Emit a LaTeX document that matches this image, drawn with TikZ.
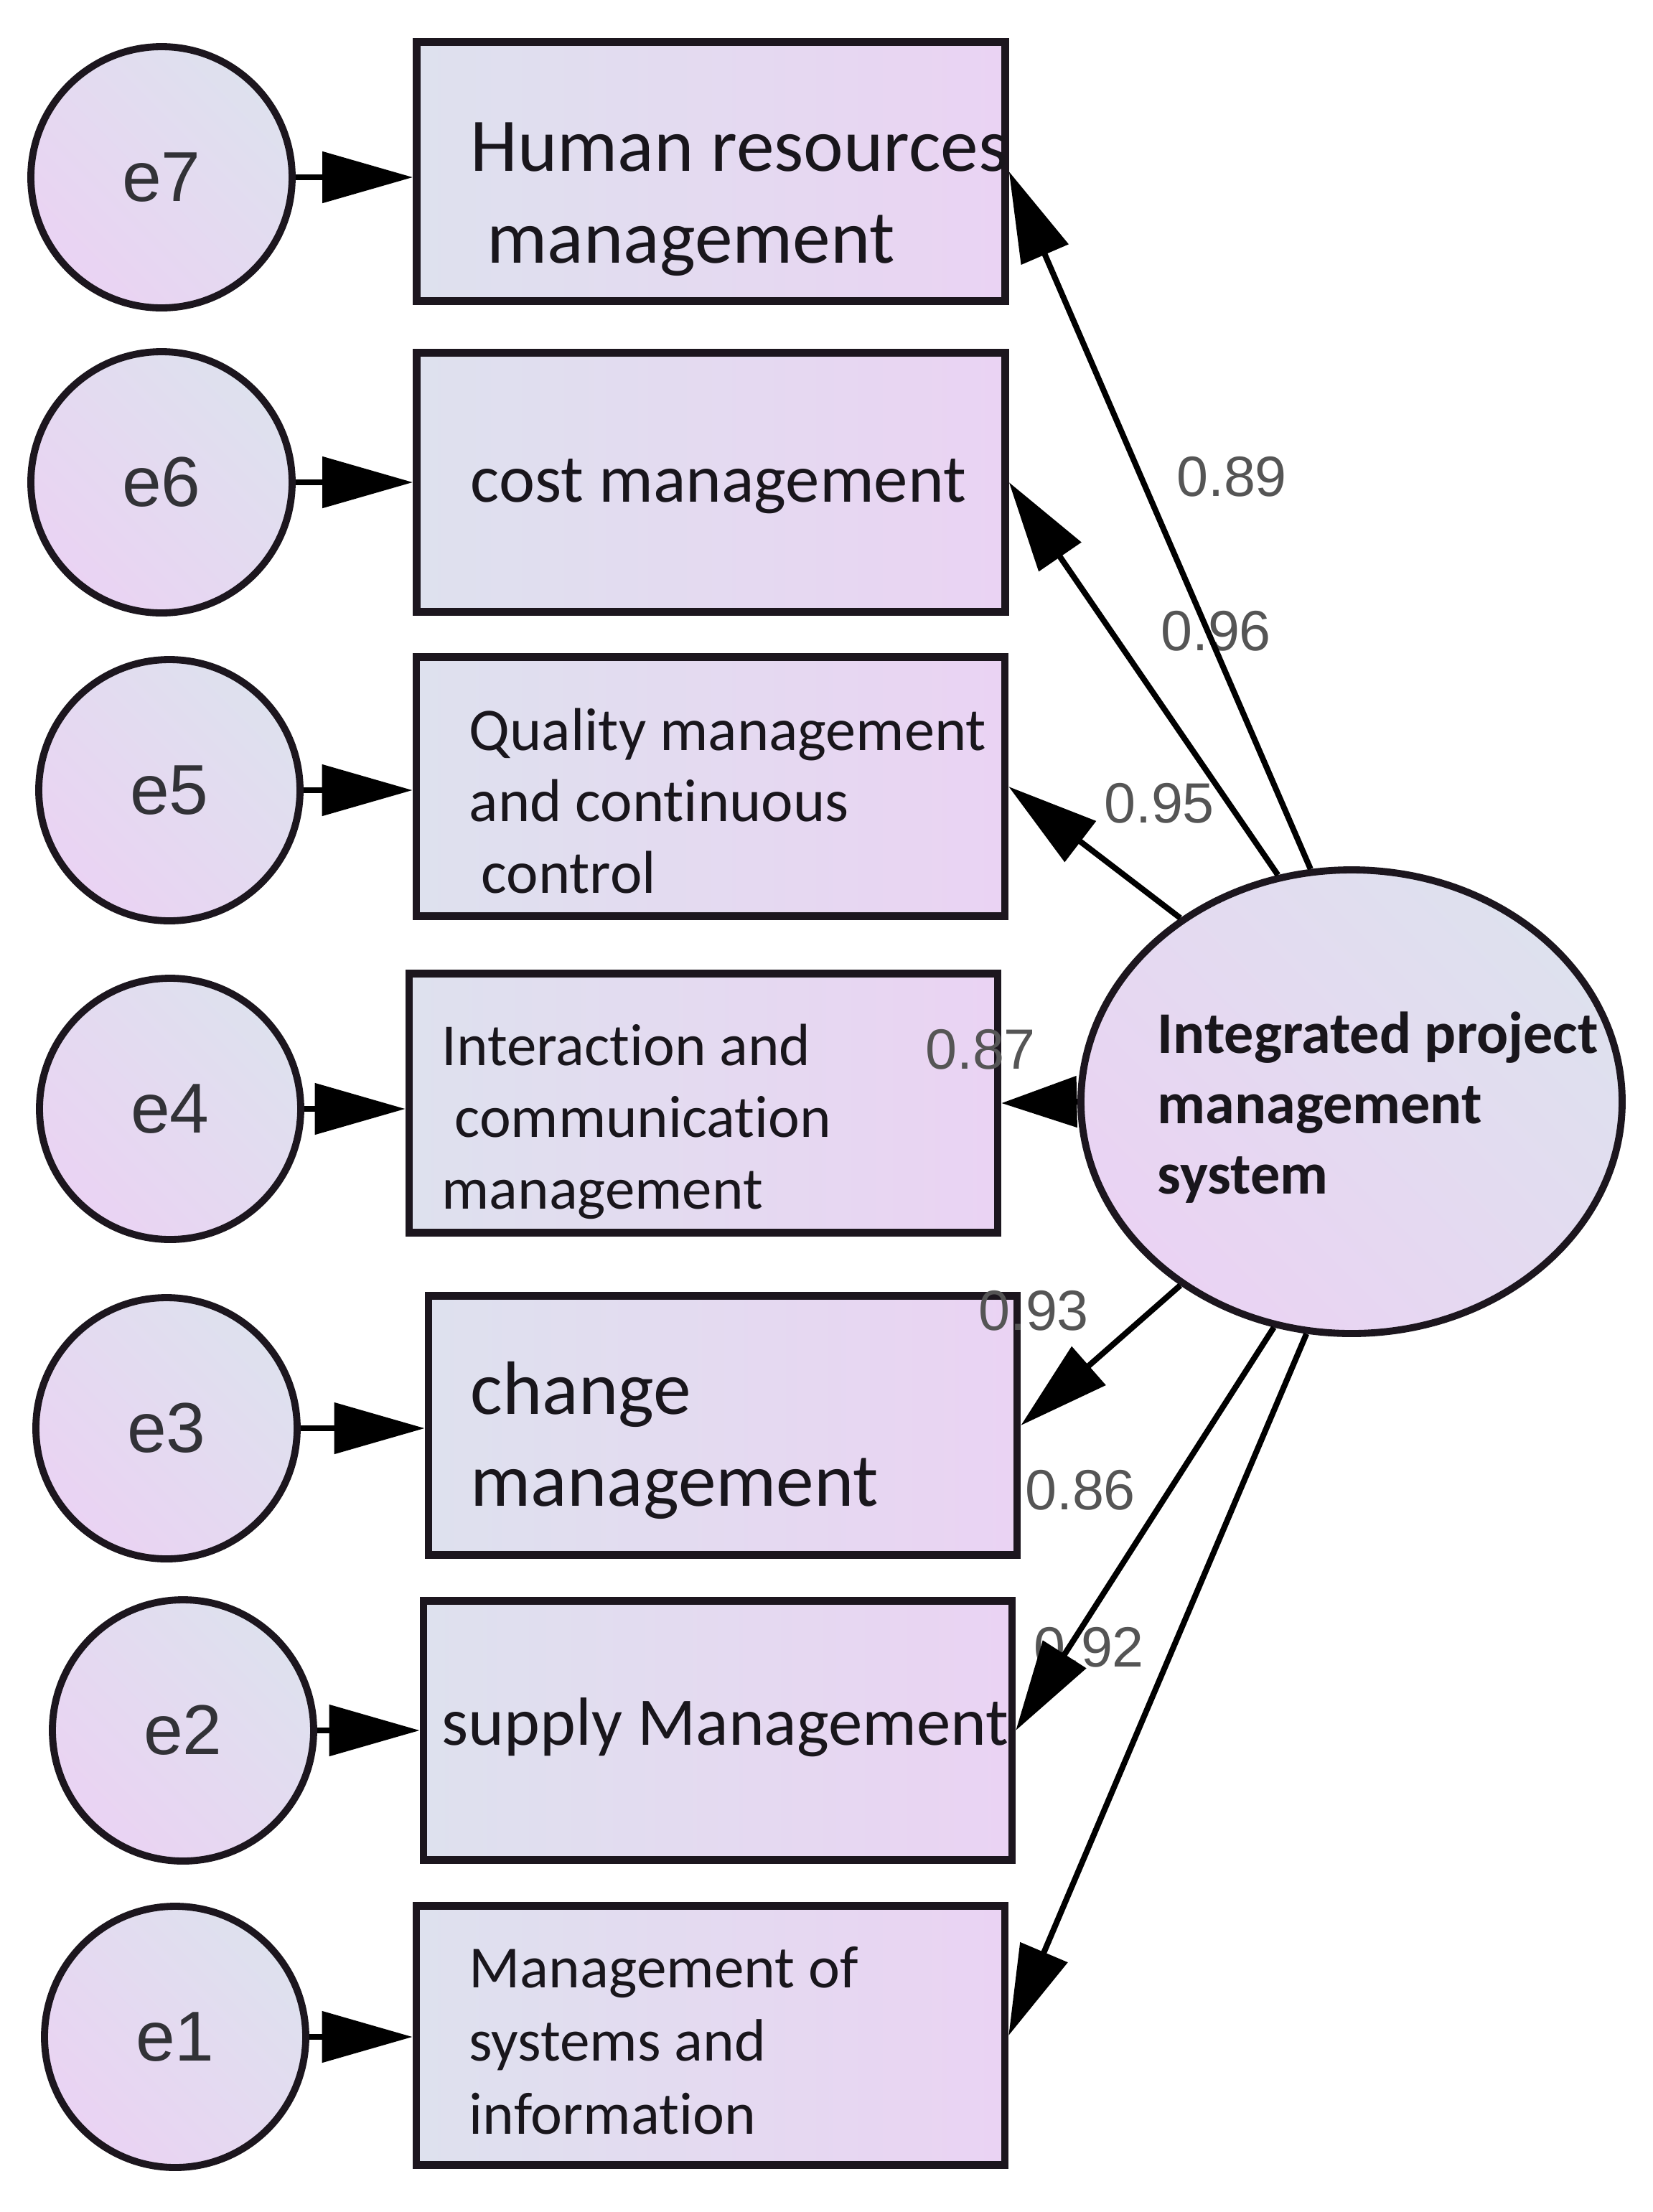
\documentclass[tikz,border=0pt]{standalone}
\usepackage{fontspec}
\setmainfont{Carlito}[Ligatures={NoCommon,NoContextual}]
\newfontfamily\arialfont{Liberation Sans}
\usetikzlibrary{arrows.meta,shapes.geometric}
\definecolor{fillA}{RGB}{222,225,238}
\definecolor{fillB}{RGB}{234,211,243}
\definecolor{edgecol}{RGB}{28,22,30}
\definecolor{numgray}{RGB}{85,85,85}
\definecolor{egray}{RGB}{50,50,55}
\definecolor{txtcol}{RGB}{25,22,28}
\begin{document}
\begin{tikzpicture}[
  obsbox/.style={draw=edgecol, line width=3pt, left color=fillA, right color=fillB,
    minimum width=8.2cm, minimum height=3.61cm, inner sep=0pt},
  errc/.style={circle, draw=edgecol, line width=2.8pt, left color=fillA, right color=fillB,
    shading angle=-45, minimum size=3.64cm, inner sep=0pt,
    font=\arialfont\fontsize{28}{30}\selectfont, text=egray},
  latent/.style={ellipse, draw=edgecol, line width=2.8pt, left color=fillA, right color=fillB,
    shading angle=-45, minimum width=7.54cm, minimum height=6.46cm, inner sep=0pt},
  conn/.style={draw=black, line width=2.3pt, -{Triangle[length=1.26cm,width=0.7cm]}},
  coef/.style={font=\arialfont\fontsize{22.5}{24}\selectfont, text=numgray, inner sep=0pt},
  btext/.style={anchor=west, align=left, inner sep=0pt, text=txtcol}
]
\fill[white] (0,0) rectangle (23.02,-30.82);
\useasboundingbox (0,0) rectangle (23.02,-30.82);

% observed boxes
\node[obsbox] (b1) at (9.905,-2.39) {};
\node[obsbox] (b2) at (9.905,-6.72) {};
\node[obsbox] (b3) at (9.90,-10.96) {};
\node[obsbox] (b4) at (9.80,-15.37) {};
\node[obsbox] (b5) at (10.07,-19.86) {};
\node[obsbox] (b6) at (10.00,-24.11) {};
\node[obsbox] (b7) at (9.90,-28.36) {};

% box texts
\node[btext, font=\fontsize{30}{36.4}\selectfont] (t1) at (6.55,-2.78)
  {Human resources\\\hspace*{0.23cm}management};
\node[btext, font=\fontsize{27}{32}\selectfont] (t2) at (6.55,-6.78) {cost management};
\node[btext, font=\fontsize{24}{28.2}\selectfont] (t3) at (6.53,-11.16)
  {Quality management\\and continuous\\\hspace*{0.17cm}control};
\node[btext, font=\fontsize{23.6}{28.5}\selectfont] (t4) at (6.15,-15.63)
  {Interaction and\\\hspace*{0.18cm}communication\\management};
\node[btext, font=\fontsize{30}{36.4}\selectfont] (t5) at (6.55,-20.07)
  {change\\management};
\node[btext, font=\fontsize{27}{32}\selectfont] (t6) at (6.15,-24.07) {supply Management};
\node[btext, font=\fontsize{23.7}{29}\selectfont] (t7) at (6.53,-28.43)
  {Management of\\systems and\\information};

% error circles
\node[errc] (e7) at (2.25,-2.47) {e7};
\node[errc] (e6) at (2.25,-6.72) {e6};
\node[errc] (e5) at (2.36,-11.01) {e5};
\node[errc] (e4) at (2.37,-15.45) {e4};
\node[errc] (e3) at (2.32,-19.90) {e3};
\node[errc] (e2) at (2.55,-24.11) {e2};
\node[errc] (e1) at (2.44,-28.38) {e1};

% latent
\node[latent] (lat) at (18.83,-15.35) {};
\node[btext, font=\bfseries\fontsize{23.4}{28}\selectfont] (tl) at (16.12,-15.43)
  {Integrated project\\management\\system};

% coefficients
\node[coef] (c1) at (17.16,-6.64) {0.89};
\node[coef] (c2) at (16.94,-8.79) {0.96};
\node[coef] (c3) at (16.15,-11.19) {0.95};
\node[coef] (c4) at (13.66,-14.62) {0.87};
\node[coef] (c5) at (14.40,-18.26) {0.93};
\node[coef] (c6) at (15.05,-20.76) {0.86};
\node[coef] (c7) at (15.17,-22.95) {0.92};

% error arrows
\draw[conn] (e7.east) -- (e7.east -| b1.west);
\draw[conn] (e6.east) -- (e6.east -| b2.west);
\draw[conn] (e5.east) -- (e5.east -| b3.west);
\draw[conn] (e4.east) -- (e4.east -| b4.west);
\draw[conn] (e3.east) -- (e3.east -| b5.west);
\draw[conn] (e2.east) -- (e2.east -| b6.west);
\draw[conn] (e1.east) -- (e1.east -| b7.west);

% loadings
\draw[conn] (lat.100.8) -- (b1.east);
\draw[conn] (lat.108.2) -- (b2.east);
\draw[conn] (lat.133.3) -- (b3.east);
\draw[conn, -{Triangle[length=1.05cm,width=0.7cm]}] (lat.west) -- (b4.east);
\draw[conn] (lat.227.3) -- (b5.east);
\draw[conn] (lat.251.8) -- (b6.east);
\draw[conn] (lat.259.6) -- (b7.east);
\end{tikzpicture}
\end{document}
